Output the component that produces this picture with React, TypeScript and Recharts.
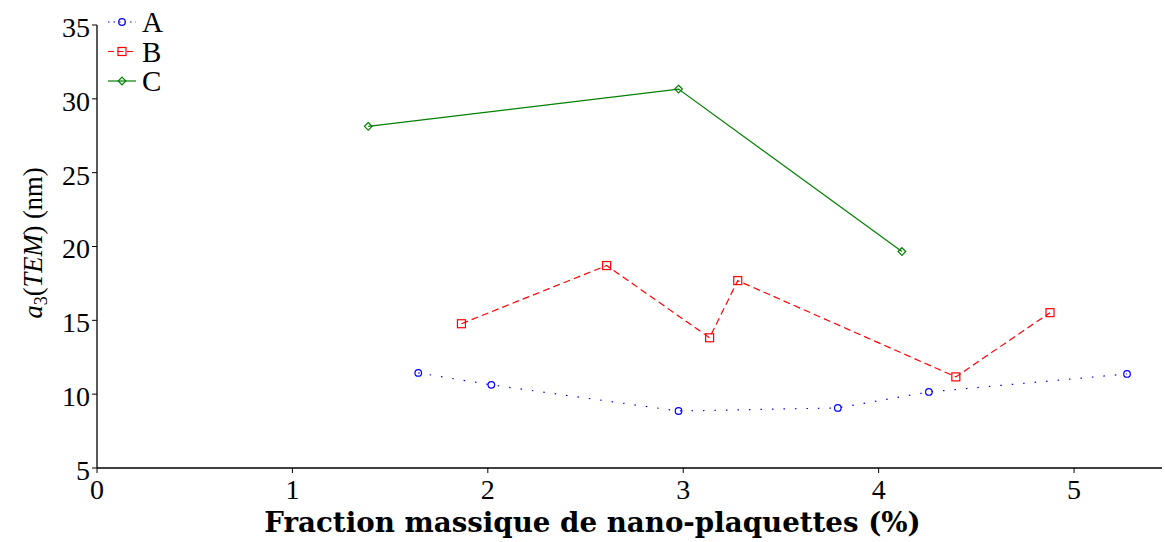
import React from "react";
import { LineChart, Line, XAxis, YAxis } from "recharts";

const aX = [1.644, 2.018, 2.976, 3.791, 4.257, 5.271];
const aY = [11.44, 10.63, 8.86, 9.07, 10.15, 11.37];
const bX = [1.865, 2.608, 3.135, 3.279, 4.395, 4.877];
const bY = [14.77, 18.71, 13.82, 17.69, 11.17, 15.52];
const cX = [1.388, 2.976, 4.119];
const cY = [28.14, 30.66, 19.66];
const xTicks = [0, 1, 2, 3, 4, 5];
const yTicks = [5, 10, 15, 20, 25, 30, 35];
const seriesNames = ["A", "B", "C"];
const seriesColors = ["#0000ff", "#ff0000", "#008000"];

const toRows = (xs: number[], ys: number[]) => xs.map((x, i) => ({ x, y: ys[i] }));
const dataA = toRows(aX, aY);
const dataB = toRows(bX, bY);
const dataC = toRows(cX, cY);

const FONT = "'Liberation Serif', 'DejaVu Serif', serif";
const WIDE = "'DejaVu Serif', 'Liberation Serif', serif";

const CircleDot = (p: any) => (
  <circle cx={p.cx} cy={p.cy} r={3.3} fill="none" stroke={seriesColors[0]} strokeWidth={1.2} />
);
const SquareDot = (p: any) => (
  <rect x={p.cx - 4} y={p.cy - 4} width={8} height={8} fill="none" stroke={seriesColors[1]} strokeWidth={1.2} />
);
const DiamondDot = (p: any) => (
  <path
    d={`M${p.cx},${p.cy - 3.8}L${p.cx + 3.8},${p.cy}L${p.cx},${p.cy + 3.8}L${p.cx - 3.8},${p.cy}Z`}
    fill="none"
    stroke={seriesColors[2]}
    strokeWidth={1.2}
  />
);

const YLabel = (props: any) => {
  const vb = props.viewBox || { x: 0, y: 0, width: 0, height: 0 };
  const cx = vb.x + 42;
  const startY = vb.y + vb.height / 2 + 72;
  return (
    <text
      transform={`translate(${cx},${startY}) rotate(-90)`}
      textAnchor="start"
      fontFamily={FONT}
      fontSize={26.5}
      fill="#000"
    >
      <tspan fontStyle="italic">a</tspan>
      <tspan fontSize={18} dy={5}>3</tspan>
      <tspan dy={-5}>(</tspan>
      <tspan fontStyle="italic">TEM</tspan>
      <tspan>) (nm)</tspan>
    </text>
  );
};

const XLabel = (props: any) => {
  const vb = props.viewBox || { x: 0, y: 0, width: 0, height: 0 };
  return (
    <text
      x={vb.x + vb.width / 2 - 37}
      y={vb.y + 64}
      textAnchor="middle"
      fontFamily={WIDE}
      fontSize={27.7}
      fontWeight="bold"
      fill="#000"
    >
      Fraction massique de nano-plaquettes (%)
    </text>
  );
};

const LegendBox = () => {
  const dashes = ["1.5 4", "6 3.5", undefined];
  const markers = [
    (x: number, y: number) => <circle cx={x} cy={y} r={3.3} fill="none" stroke={seriesColors[0]} strokeWidth={1.2} />,
    (x: number, y: number) => <rect x={x - 4} y={y - 4} width={8} height={8} fill="none" stroke={seriesColors[1]} strokeWidth={1.2} />,
    (x: number, y: number) => (
      <path d={`M${x},${y - 3.8}L${x + 3.8},${y}L${x},${y + 3.8}L${x - 3.8},${y}Z`} fill="none" stroke={seriesColors[2]} strokeWidth={1.2} />
    ),
  ];
  return (
    <g>
      {seriesNames.map((n, i) => {
        const y = 22 + i * 29.5;
        return (
          <g key={n}>
            <line x1={108} x2={136} y1={y} y2={y} stroke={seriesColors[i]} strokeWidth={1.2} strokeDasharray={dashes[i]} />
            {markers[i](122, y)}
            <text x={142} y={y + 10} fontFamily={FONT} fontSize={29} fill="#000">
              {n}
            </text>
          </g>
        );
      })}
    </g>
  );
};

export default function App() {
  return (
    <div style={{ position: "absolute", left: 0, top: 0, width: 1165, height: 542, background: "#fff" }}>
      <LineChart width={1165} height={542} margin={{ top: 25, right: 3, bottom: 0, left: 0 }}>
        <XAxis
          type="number"
          dataKey="x"
          domain={[0, 5.45]}
          ticks={xTicks}
          allowDataOverflow
          height={74}
          tickSize={5}
          axisLine={{ stroke: "#000", strokeWidth: 1.3 }}
          tickLine={{ stroke: "#000", strokeWidth: 1 }}
          tick={{ fill: "#000", fontSize: 28, fontFamily: FONT, dy: 4 }}
          label={<XLabel />}
        />
        <YAxis
          type="number"
          dataKey="y"
          domain={[5, 35]}
          ticks={yTicks}
          allowDataOverflow
          width={97}
          tickSize={5}
          axisLine={{ stroke: "#000", strokeWidth: 1.3 }}
          tickLine={{ stroke: "#000", strokeWidth: 1 }}
          tick={{ fill: "#000", fontSize: 28, fontFamily: FONT, dy: 2 }}
          label={<YLabel />}
        />
        <Line data={dataA} dataKey="y" name="A" stroke={seriesColors[0]} strokeWidth={1.2} strokeDasharray="1.5 10" dot={<CircleDot />} isAnimationActive={false} />
        <Line data={dataB} dataKey="y" name="B" stroke={seriesColors[1]} strokeWidth={1.2} strokeDasharray="7 4" dot={<SquareDot />} isAnimationActive={false} />
        <Line data={dataC} dataKey="y" name="C" stroke={seriesColors[2]} strokeWidth={1.2} dot={<DiamondDot />} isAnimationActive={false} />
        <LegendBox />
      </LineChart>
    </div>
  );
}
